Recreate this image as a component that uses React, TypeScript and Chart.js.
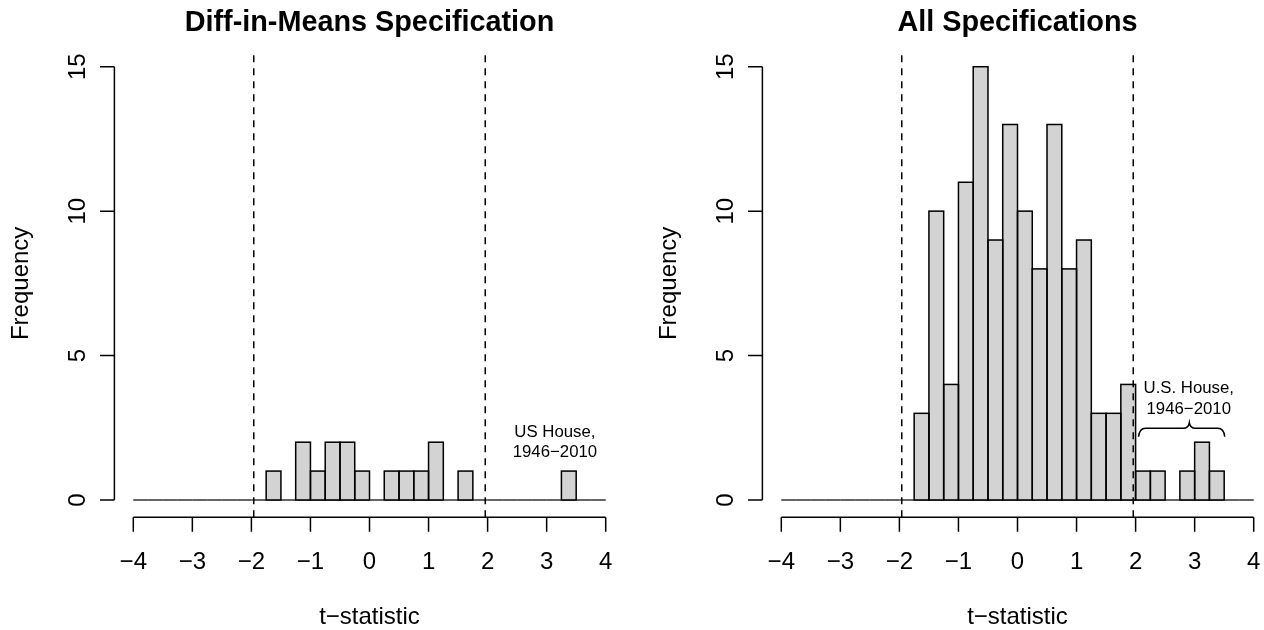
import React, { useEffect, useRef } from "react";
import { Chart, registerables } from "chart.js";

Chart.register(...registerables);

// ---------- data ----------
const binCenters = [
  -3.875, -3.625, -3.375, -3.125, -2.875, -2.625, -2.375, -2.125,
  -1.875, -1.625, -1.375, -1.125, -0.875, -0.625, -0.375, -0.125,
  0.125, 0.375, 0.625, 0.875, 1.125, 1.375, 1.625, 1.875,
  2.125, 2.375, 2.625, 2.875, 3.125, 3.375, 3.625, 3.875,
];
const diffInMeansCounts = [
  0, 0, 0, 0, 0, 0, 0, 0,
  0, 1, 0, 2, 1, 2, 2, 1,
  0, 1, 1, 1, 2, 0, 1, 0,
  0, 0, 0, 0, 0, 1, 0, 0,
];
const allSpecsCounts = [
  0, 0, 0, 0, 0, 0, 0, 0,
  0, 3, 10, 4, 11, 15, 9, 13,
  10, 8, 13, 8, 9, 3, 3, 4,
  1, 1, 0, 1, 2, 1, 0, 0,
];
const histRange = [-4, 4];
const xTickValues = [-4, -3, -2, -1, 0, 1, 2, 3, 4];
const xTickLabels = ["\u22124", "\u22123", "\u22122", "\u22121", "0", "1", "2", "3", "4"];
const yTickValues = [0, 5, 10, 15];
const yTickLabels = ["0", "5", "10", "15"];
const criticalValues = [-1.96, 1.96];
const panelTitles = ["Diff-in-Means Specification", "All Specifications"];
const xAxisTitle = "t\u2212statistic";
const yAxisTitle = "Frequency";
const leftNoteLines = ["US House,", "1946\u22122010"];
const leftNotePos = [3.14, 2];
const rightNoteLines = ["U.S. House,", "1946\u22122010"];
const rightNotePos = [2.9, 3.5];
// brace under right note: x = [left end, tip, right end], y = [ends, bar, tip]
const braceX = [2.05, 2.91, 3.51];
const braceY = [2.19, 2.48, 2.68];

const FONT = '"Liberation Sans", Arial, Helvetica, sans-serif';
const LW = 1.5;

const rDecor = {
  id: "rDecor",
  beforeDatasetsDraw(chart: any) {
    const { ctx, scales } = chart;
    const x = scales.x, y = scales.y;
    ctx.save();
    ctx.strokeStyle = "#000";
    ctx.lineWidth = LW;
    ctx.beginPath();
    ctx.moveTo(x.getPixelForValue(histRange[0]), y.getPixelForValue(0));
    ctx.lineTo(x.getPixelForValue(histRange[1]), y.getPixelForValue(0));
    ctx.stroke();
    ctx.restore();
  },
  afterDatasetsDraw(chart: any, _args: any, opts: any) {
    const { ctx, scales, chartArea } = chart;
    const x = scales.x, y = scales.y;
    ctx.save();
    ctx.strokeStyle = "#000";
    ctx.fillStyle = "#000";
    ctx.lineWidth = LW;

    // bar outlines (R style, centered on edges)
    const meta = chart.getDatasetMeta(0);
    meta.data.forEach((el: any) => {
      const p = el.getProps(["x", "y", "base", "width"], true);
      if (Math.abs(p.base - p.y) < 0.5) return;
      ctx.strokeRect(p.x - p.width / 2, p.y, p.width, p.base - p.y);
    });

    // dashed critical lines
    ctx.save();
    ctx.setLineDash([7, 6]);
    criticalValues.forEach((v) => {
      const px = x.getPixelForValue(v);
      ctx.beginPath();
      ctx.moveTo(px, chartArea.bottom);
      ctx.lineTo(px, chartArea.top);
      ctx.stroke();
    });
    ctx.restore();

    const tick = 14.4;
    // x axis
    const ay = chartArea.bottom;
    ctx.beginPath();
    ctx.moveTo(x.getPixelForValue(xTickValues[0]), ay);
    ctx.lineTo(x.getPixelForValue(xTickValues[xTickValues.length - 1]), ay);
    xTickValues.forEach((v) => {
      const px = x.getPixelForValue(v);
      ctx.moveTo(px, ay);
      ctx.lineTo(px, ay + tick);
    });
    ctx.stroke();
    ctx.font = `24px ${FONT}`;
    ctx.textAlign = "center";
    ctx.textBaseline = "alphabetic";
    xTickValues.forEach((v, i) => {
      ctx.fillText(xTickLabels[i], x.getPixelForValue(v), ay + 52);
    });
    const cx = (chartArea.left + chartArea.right) / 2;
    ctx.fillText(xAxisTitle, cx, ay + 107);

    // y axis
    const ax = chartArea.left;
    ctx.beginPath();
    ctx.moveTo(ax, y.getPixelForValue(yTickValues[0]));
    ctx.lineTo(ax, y.getPixelForValue(yTickValues[yTickValues.length - 1]));
    yTickValues.forEach((v) => {
      const py = y.getPixelForValue(v);
      ctx.moveTo(ax, py);
      ctx.lineTo(ax - tick, py);
    });
    ctx.stroke();
    yTickValues.forEach((v, i) => {
      ctx.save();
      ctx.translate(ax - 29, y.getPixelForValue(v));
      ctx.rotate(-Math.PI / 2);
      ctx.fillText(yTickLabels[i], 0, 0);
      ctx.restore();
    });
    const cy = (chartArea.top + chartArea.bottom) / 2;
    ctx.save();
    ctx.translate(ax - 86, cy);
    ctx.rotate(-Math.PI / 2);
    ctx.fillText(yAxisTitle, 0, 0);
    ctx.restore();

    // title
    ctx.font = `bold 28.8px ${FONT}`;
    ctx.fillText(opts.title, cx, 31);

    // note text
    ctx.font = `16.8px ${FONT}`;
    ctx.textBaseline = "middle";
    const nx = x.getPixelForValue(opts.notePos[0]);
    const ny = y.getPixelForValue(opts.notePos[1]);
    const gap = 20.6;
    opts.noteLines.forEach((s: string, i: number) => {
      ctx.fillText(s, nx, ny + (i - (opts.noteLines.length - 1) / 2) * gap);
    });

    // brace
    if (opts.brace) {
      const xl = x.getPixelForValue(braceX[0]);
      const xt = x.getPixelForValue(braceX[1]);
      const xr = x.getPixelForValue(braceX[2]);
      const ye = y.getPixelForValue(braceY[0]);
      const yb = y.getPixelForValue(braceY[1]);
      const yt = y.getPixelForValue(braceY[2]);
      ctx.lineWidth = LW;
      ctx.beginPath();
      ctx.moveTo(xl, ye);
      ctx.quadraticCurveTo(xl + 1, yb, xl + 7, yb);
      ctx.lineTo(xt - 6, yb);
      ctx.quadraticCurveTo(xt - 1, yb, xt, yt);
      ctx.quadraticCurveTo(xt + 1, yb, xt + 6, yb);
      ctx.lineTo(xr - 7, yb);
      ctx.quadraticCurveTo(xr - 1, yb, xr, ye);
      ctx.stroke();
    }
    ctx.restore();
  },
};

function Panel({ counts, title, noteLines, notePos, brace, left }: any) {
  const ref = useRef<HTMLCanvasElement | null>(null);
  useEffect(() => {
    if (!ref.current) return;
    const chart = new Chart(ref.current, {
      type: "bar",
      data: {
        datasets: [
          {
            data: binCenters.map((c, i) => ({ x: c, y: counts[i] })),
            backgroundColor: "#D3D3D3",
            borderWidth: 0,
            barPercentage: 1,
            categoryPercentage: 1,
          },
        ],
      },
      options: {
        animation: false,
        responsive: false,
        devicePixelRatio: 1,
        events: [],
        layout: { padding: { left: 114.4, right: 23.4, top: 49.4, bottom: 112.7 } },
        scales: {
          x: { type: "linear", min: -4.32, max: 4.32, offset: false, display: false },
          y: { type: "linear", min: -0.6, max: 15.6, display: false },
        },
        plugins: {
          legend: { display: false },
          tooltip: { enabled: false },
          rDecor: { title, noteLines, notePos, brace },
        } as any,
      },
      plugins: [rDecor],
    });
    return () => chart.destroy();
  }, []);
  return (
    <canvas
      ref={ref}
      width={648}
      height={630}
      style={{ position: "absolute", left, top: 0, width: 648, height: 630 }}
    />
  );
}

export default function App() {
  return (
    <div
      style={{
        position: "fixed",
        left: 0,
        top: 0,
        width: 1264,
        height: 630,
        overflow: "hidden",
        background: "#fff",
      }}
    >
      <Panel
        counts={diffInMeansCounts}
        title={panelTitles[0]}
        noteLines={leftNoteLines}
        notePos={leftNotePos}
        brace={false}
        left={0}
      />
      <Panel
        counts={allSpecsCounts}
        title={panelTitles[1]}
        noteLines={rightNoteLines}
        notePos={rightNotePos}
        brace={true}
        left={648}
      />
    </div>
  );
}
